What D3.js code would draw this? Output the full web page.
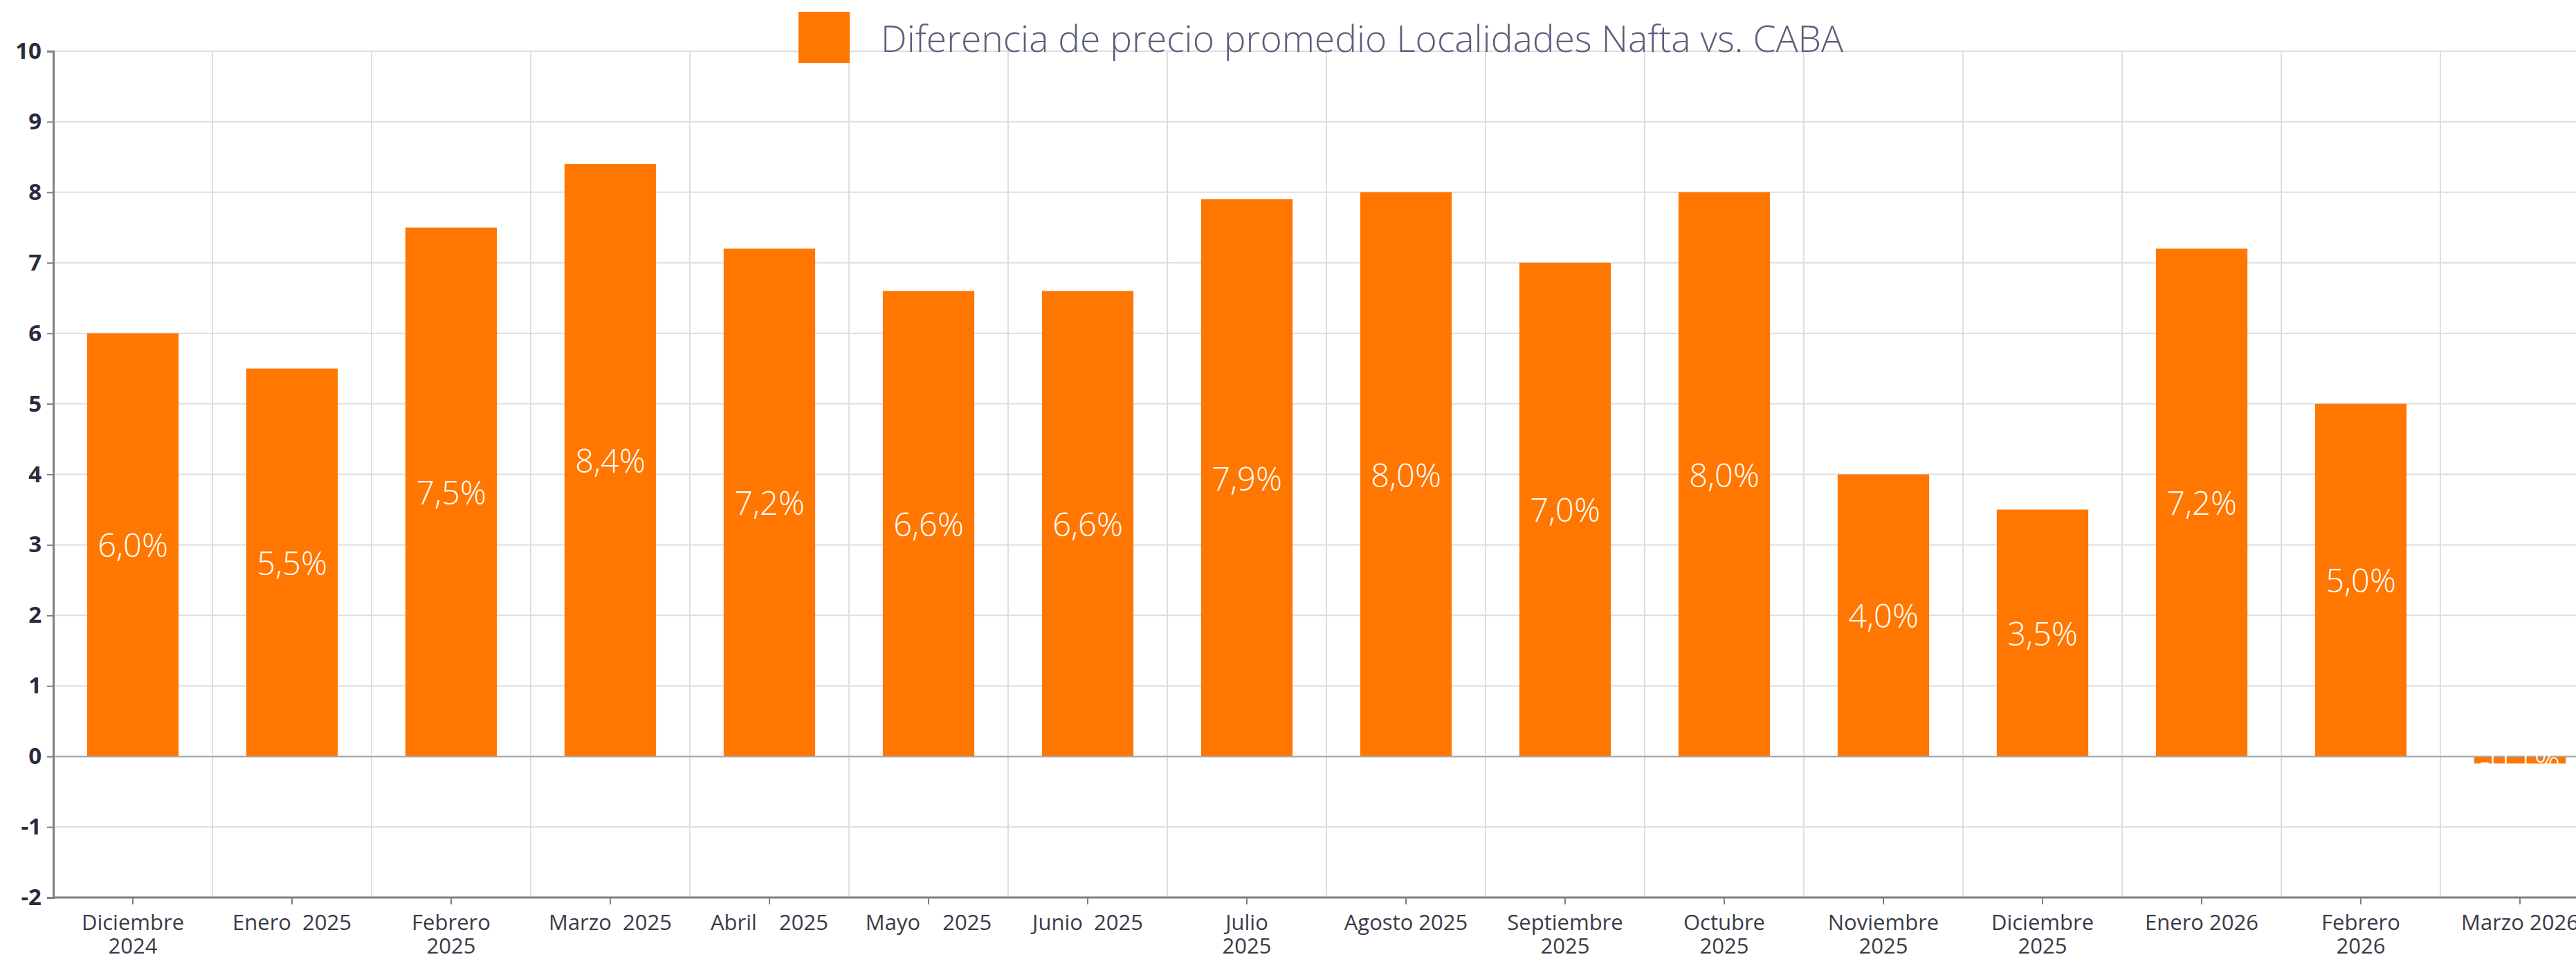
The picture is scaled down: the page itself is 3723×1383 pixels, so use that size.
<!DOCTYPE html>
<html lang="es">
<head>
  <meta charset="UTF-8">
  <title>Diferencia de precio promedio</title>
  <style>
    html, body { margin: 0; padding: 0; background: #fff; }
    svg { display: block; }
  </style>
</head>
<body>
  <script src="https://cdn.jsdelivr.net/npm/d3@7"></script>
  <script>
    // datos
    const categories = [
      ['Diciembre', '2024'], ['Enero  2025'], ['Febrero', '2025'], ['Marzo  2025'],
      ['Abril    2025'], ['Mayo    2025'], ['Junio  2025'], ['Julio', '2025'],
      ['Agosto 2025'], ['Septiembre', '2025'], ['Octubre', '2025'], ['Noviembre', '2025'],
      ['Diciembre', '2025'], ['Enero 2026'], ['Febrero', '2026'], ['Marzo 2026']
    ];
    const values = [6.0, 5.5, 7.5, 8.4, 7.2, 6.6, 6.6, 7.9, 8.0, 7.0, 8.0, 4.0, 3.5, 7.2, 5.0, -0.1];
    const yTicks = [10, 9, 8, 7, 6, 5, 4, 3, 2, 1, 0, -1, -2];
    const seriesName = 'Diferencia de precio promedio Localidades Nafta vs. CABA';

    const W = 3723, H = 1383;
    const mLeft = 77, mTop = 74, mBottom = 1297;
    const step = 230;
    const orange = '#ff7600';
    const font = '"Open Sans", "DejaVu Sans", sans-serif';

    const svg = d3.select('body').append('svg').attr('width', W).attr('height', H);

    const keys = categories.map((c, i) => i);
    const x = d3.scaleBand().domain(keys)
      .range([mLeft, mLeft + step * keys.length])
      .paddingInner(0.425).paddingOuter(0.2125);
    const y = d3.scaleLinear().domain([-2, 10]).range([mBottom, mTop]);

    // grid
    const grid = svg.append('g');
    grid.selectAll('line.h').data(yTicks).join('line')
      .attr('x1', mLeft).attr('x2', W)
      .attr('y1', d => y(d)).attr('y2', d => y(d))
      .attr('stroke', d => d === 0 ? '#a9a9a9' : '#dedede')
      .attr('stroke-width', 2);
    grid.selectAll('line.v').data(keys.slice(1)).join('line')
      .attr('x1', d => x(d) - x.step() * x.paddingInner() / 2)
      .attr('x2', d => x(d) - x.step() * x.paddingInner() / 2)
      .attr('y1', mTop).attr('y2', mBottom)
      .attr('stroke', '#dedede').attr('stroke-width', 2);

    // barras
    svg.append('g').selectAll('rect').data(values).join('rect')
      .attr('x', (d, i) => x(i))
      .attr('width', x.bandwidth())
      .attr('y', d => y(Math.max(0, d)))
      .attr('height', d => Math.abs(y(d) - y(0)))
      .attr('fill', orange);

    // linea cero encima
    svg.append('line')
      .attr('x1', mLeft).attr('x2', W)
      .attr('y1', y(0)).attr('y2', y(0))
      .attr('stroke', '#a9a9a9').attr('stroke-width', 2);

    // etiquetas de valores
    const fmt = v => d3.format('.1f')(v).replace('.', ',').replace('−', '-') + '%';
    svg.append('g').selectAll('text').data(values).join('text')
      .attr('x', (d, i) => x(i) + x.bandwidth() / 2)
      .attr('y', d => y(d / 2))
      .attr('text-anchor', 'middle')
      .attr('dominant-baseline', 'central')
      .attr('fill', '#fff')
      .style('font-family', font)
      .style('font-weight', 300)
      .style('font-size', '47px')
      .text(fmt);

    // eje Y
    const yAxis = svg.append('g')
      .attr('transform', `translate(${mLeft},0)`)
      .call(d3.axisLeft(y).tickValues(yTicks).tickSize(9).tickPadding(8).tickFormat(d3.format('d')));
    yAxis.select('.domain').attr('stroke', '#808080').attr('stroke-width', 3);
    yAxis.selectAll('.tick line').attr('stroke', '#808080').attr('stroke-width', 2);
    yAxis.selectAll('text')
      .attr('fill', '#2d2a3c')
      .style('font-family', font)
      .style('font-weight', 700)
      .style('font-size', '33px')
      .text(d => String(d).replace('−', '-'));

    // eje X
    const xAxis = svg.append('g')
      .attr('transform', `translate(0,${mBottom})`)
      .call(d3.axisBottom(x).tickSize(10).tickFormat(''));
    xAxis.select('.domain').remove();
    xAxis.selectAll('.tick line').attr('stroke', '#808080').attr('stroke-width', 2);
    svg.append('line')
      .attr('x1', mLeft).attr('x2', W)
      .attr('y1', mBottom).attr('y2', mBottom)
      .attr('stroke', '#808080').attr('stroke-width', 3);

    const xl = svg.append('g').selectAll('text').data(categories).join('text')
      .attr('x', (d, i) => x(i) + x.bandwidth() / 2)
      .attr('y', 1344)
      .attr('text-anchor', 'middle')
      .attr('fill', '#3b3a48')
      .attr('xml:space', 'preserve')
      .style('white-space', 'pre')
      .style('font-family', font)
      .style('font-size', '31px');
    xl.selectAll('tspan').data(d => d).join('tspan')
      .attr('x', function() { return this.parentNode.getAttribute('x'); })
      .attr('dy', (d, i) => i === 0 ? 0 : 34)
      .text(d => d);

    // leyenda
    const lg = svg.append('g');
    lg.append('rect').attr('x', 1154).attr('y', 17).attr('width', 74).attr('height', 74).attr('fill', orange);
    const lt = lg.append('text')
      .attr('x', 1273).attr('y', 54)
      .attr('dominant-baseline', 'central')
      .attr('fill', '#5b5f7c')
      .style('font-family', font)
      .style('font-weight', 300)
      .style('font-size', '46px')
      .text(seriesName);
    const want = 1391, got = lt.node().getComputedTextLength();
    lt.style('font-size', (46 * want / got).toFixed(1) + 'px');
  </script>
</body>
</html>
